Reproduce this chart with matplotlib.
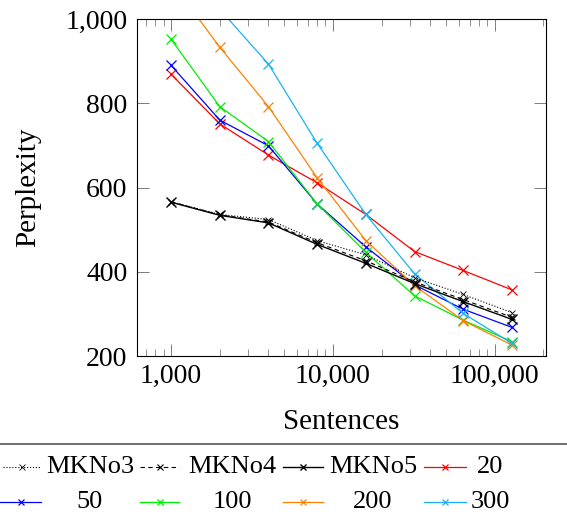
import matplotlib
matplotlib.use("Agg")
import matplotlib.pyplot as plt
import matplotlib.ticker as mticker
from matplotlib.lines import Line2D
import numpy as np

sentences = [1000, 2000, 4000, 8000, 16000, 32000, 64000, 128000]
mkno3 = [566, 536, 524, 474, 440, 386, 346, 303]
mkno4 = [566, 535, 518, 469, 426, 376, 334, 292]
mkno5 = [565, 534, 516, 465, 420, 372, 329, 287]
s20 = [869, 751, 677, 611, 536, 448, 403, 357]
s50 = [890, 760, 699, 561, 459, 369, 311, 268]
s100 = [952, 792, 709, 561, 446, 343, 285, 234]
s200 = [1089, 933, 792, 623, 474, 367, 284, 226]
s300 = [1180, 1023, 893, 705, 536, 395, 301, 230]

labels = ["MKNo3", "MKNo4", "MKNo5", "20", "50", "100", "200", "300"]
yticks = [200, 400, 600, 800, 1000]
xticks = [1000, 10000, 100000]

plt.rcParams['font.family'] = ['Liberation Serif', 'DejaVu Serif']

W, H = 567, 519
fig = plt.figure(figsize=(W / 100, H / 100), dpi=100)
ax = fig.add_axes([137 / W, 1 - 356 / H, (546 - 137) / W, (356 - 19) / H])

series = [mkno3, mkno4, mkno5, s20, s50, s100, s200, s300]
styles = [
    dict(color='black', ls=':', lw=0.8, marker='x', ms=5, mew=0.6),
    dict(color='black', ls=(0, (4, 3)), lw=0.8, marker='x', ms=5, mew=0.8),
    dict(color='black', ls='-', lw=1.0, marker='x', ms=7, mew=1.0),
    dict(color='#ff0000', ls='-', lw=0.9, marker='x', ms=7, mew=0.9),
    dict(color='#0000ff', ls='-', lw=0.9, marker='x', ms=7, mew=0.9),
    dict(color='#00ee00', ls='-', lw=0.9, marker='x', ms=7, mew=0.9),
    dict(color='#ff8000', ls='-', lw=0.9, marker='x', ms=7, mew=0.9),
    dict(color='#19b3f0', ls='-', lw=0.9, marker='x', ms=7, mew=0.9),
]
order = [3, 4, 5, 6, 7, 0, 1, 2]
for i in order:
    ax.plot(sentences, series[i], label=labels[i], **styles[i], zorder=3 if i < 3 else 2)

ax.set_xscale('log')
lo, hi = np.log10(sentences[0]), np.log10(sentences[-1])
pad = 0.1 * (hi - lo)
ax.set_xlim(10 ** (lo - pad), 10 ** (hi + pad))
ax.set_ylim(200, 1000)
ax.set_yticks(yticks)
ax.yaxis.set_major_formatter(mticker.FuncFormatter(lambda v, p: f"{int(v):,}"))
ax.set_xticks(xticks)
ax.xaxis.set_major_formatter(mticker.FuncFormatter(lambda v, p: f"{int(round(v)):,}"))
ax.xaxis.set_minor_locator(mticker.LogLocator(base=10, subs=np.arange(2, 10)))
ax.xaxis.set_minor_formatter(mticker.NullFormatter())
ax.yaxis.set_minor_locator(mticker.NullLocator())

ax.tick_params(axis='both', which='major', direction='in', length=8.5, width=0.6,
               color='#666666', top=True, right=True, labelsize=20, pad=6)
ax.tick_params(axis='x', which='minor', direction='in', length=5, width=0.5,
               color='#666666', top=True, bottom=True)
ax.tick_params(axis='y', which='major', pad=7)
for s in ax.spines.values():
    s.set_linewidth(0.8)

ax.set_ylabel("Perplexity", fontsize=21)
ax.set_xlabel("Sentences", fontsize=21)
ax.yaxis.set_label_coords((28 - 137) / 409, 0.5)
ax.xaxis.set_label_coords(0.5, (356 - 422) / 337)
ax.yaxis.label.set_va('center')
ax.xaxis.label.set_va('center')

# Legend (manual, 4 columns, text centered)
fig.add_artist(Line2D([0, 1], [1 - 444 / H, 1 - 444 / H], transform=fig.transFigure,
                      color='#555555', lw=1.2))
handle_x = [(3, 41), (140, 179), (283, 323), (424, 466)]
text_cx = [90, 232, 373, 490]
row_y = [467, 502]
for k in range(8):
    r, c = divmod(k, 4)
    st = styles[k]
    x0, x1 = handle_x[c]
    if r == 1:
        x0 = x0 - 3 if c == 0 else x0
    y = 1 - row_y[r] / H
    fig.add_artist(Line2D([x0 / W, x1 / W], [y, y], transform=fig.transFigure,
                          color=st['color'], ls=st['ls'], lw=st['lw']))
    fig.add_artist(Line2D([(x0 + x1) / 2 / W], [y], transform=fig.transFigure,
                          color=st['color'], marker='x', ms=5, mew=st['mew'], ls='none'))
    fig.text(text_cx[c] / W, y, labels[k], ha='center', va='center', fontsize=19)

fig.savefig("out.png", dpi=100)
